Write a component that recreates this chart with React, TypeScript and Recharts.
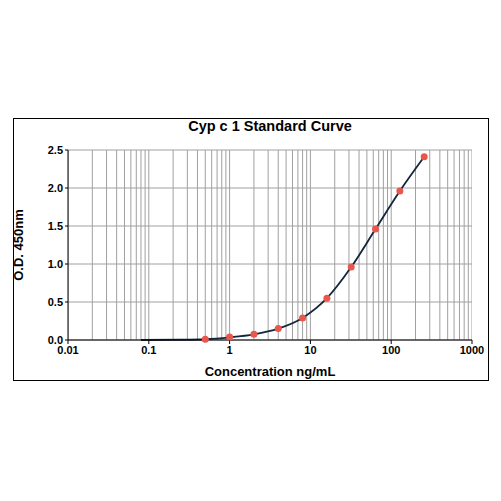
import React from 'react';
import {
  ComposedChart,
  Line,
  Scatter,
  XAxis,
  YAxis,
  CartesianGrid,
  ReferenceLine,
  Label,
} from 'recharts';

// standards (ng/mL) and their O.D. 450nm readings
const concentrations = [0.5, 1, 2, 4, 8, 16, 32, 64, 128, 256];
const odValues = [0.01, 0.04, 0.075, 0.15, 0.29, 0.55, 0.96, 1.46, 1.96, 2.41];

// fitted curve (it starts below the first standard)
const curveConc = [0.08, 0.25, 0.5, 1, 2, 4, 8, 16, 32, 64, 128, 256];
const curveOd = [0.0, 0.003, 0.01, 0.035, 0.075, 0.15, 0.29, 0.55, 0.96, 1.46, 1.96, 2.41];

const xTicks = [0.01, 0.1, 1, 10, 100, 1000];
const yTicks = [0, 0.5, 1, 1.5, 2, 2.5];
const decades = [0.01, 0.1, 1, 10, 100];
const steps = [1, 2, 3, 4, 5, 6, 7, 8, 9];

const gridX = decades.flatMap(d => steps.map(s => +(d * s).toPrecision(3))).concat([1000]);

const standards = concentrations.map((c, i) => ({ x: c, y: odValues[i] }));
const curve = curveConc.map((c, i) => ({ x: c, y: curveOd[i] }));

const font = '"Liberation Sans", Arial, sans-serif';

export default function App() {
  return (
    <div style={{ position: 'absolute', left: 0, top: 0, width: 501, height: 501, background: '#fff', fontFamily: font }}>
      <div
        style={{
          position: 'absolute',
          left: 13,
          top: 118,
          width: 474,
          height: 261,
          border: '1px solid #000',
        }}
      />
      <div
        style={{
          position: 'absolute',
          left: 68,
          width: 404,
          top: 118,
          textAlign: 'center',
          fontWeight: 'bold',
          fontSize: 14.5,
          color: '#000',
        }}
      >
        Cyp c 1 Standard Curve
      </div>
      <ComposedChart
        width={501}
        height={501}
        margin={{ top: 150, right: 29, bottom: 131, left: 28 }}
        style={{ position: 'absolute', left: 0, top: 0 }}
      >
        <CartesianGrid stroke="#a0a0a0" vertical={false} />
        {gridX.map(v => (
          <ReferenceLine key={v} x={v} stroke="#a0a0a0" ifOverflow="hidden" />
        ))}
        <XAxis
          dataKey="x"
          type="number"
          scale="log"
          domain={[0.01, 1000]}
          ticks={xTicks}
          tickFormatter={(v: number) => String(v)}
          allowDataOverflow
          height={30}
          stroke="#000"
          tickSize={4}
          tick={{ fill: '#000', fontSize: 11, fontWeight: 'bold', fontFamily: font }}
        >
          <Label
            value="Concentration ng/mL"
            position="insideBottom"
            offset={-6}
            style={{ fill: '#000', fontSize: 13, fontWeight: 'bold', fontFamily: font }}
          />
        </XAxis>
        <YAxis
          dataKey="y"
          type="number"
          domain={[0, 2.5]}
          ticks={yTicks}
          tickFormatter={(v: number) => v.toFixed(1)}
          width={40}
          stroke="#000"
          tickSize={3}
          tick={{ fill: '#000', fontSize: 11, fontWeight: 'bold', fontFamily: font }}
        >
          <Label
            value="O.D. 450nm"
            angle={-90}
            position="insideLeft"
            offset={-10}
            style={{ textAnchor: 'middle', fill: '#000', fontSize: 13, fontWeight: 'bold', fontFamily: font }}
          />
        </YAxis>
        <Line
          data={curve}
          dataKey="y"
          type="monotone"
          stroke="#14263c"
          strokeWidth={1.8}
          dot={false}
          isAnimationActive={false}
        />
        <Scatter
          data={standards}
          dataKey="y"
          fill="#e8564c"
          shape={(p: any) => <circle cx={p.cx} cy={p.cy} r={3.5} fill="#e8564c" />}
          isAnimationActive={false}
        />
      </ComposedChart>
    </div>
  );
}
